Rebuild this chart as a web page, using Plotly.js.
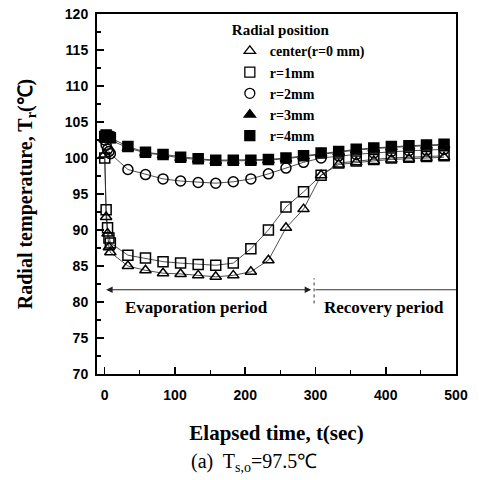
<!DOCTYPE html>
<html><head><meta charset="utf-8">
<script src="https://cdn.plot.ly/plotly-3.0.1.min.js"></script>
<style>html,body{margin:0;padding:0;background:#fff}#chart{width:479px;height:480px}</style>
</head><body><div id="chart"></div>
<script>
// Elapsed time (sec)
const tEarly = [0, 2, 4, 6, 8];
const tMain = [33, 58, 83, 108, 133, 158, 183, 208, 233, 258, 283, 308, 333, 358, 383, 408, 433, 458, 483];
const time = tEarly.concat(tMain);
// Radial temperature (deg C)
const tempCenter = [100.5, 91.8, 89.5, 87.6, 86.9, 85.0, 84.4, 84.0, 83.9, 83.7, 83.5, 83.7, 84.2, 85.8, 90.3, 92.9, 97.6, 99.1, 99.4, 99.6, 99.8, 99.9, 100.0, 100.1];
const tempR1 = [100.0, 92.8, 90.3, 88.9, 88.2, 86.5, 86.1, 85.6, 85.4, 85.2, 85.1, 85.4, 87.4, 90.0, 93.2, 95.3, 97.6, 99.3, 99.6, 99.8, 100.0, 100.1, 100.2, 100.3];
const tempR2 = [102.5, 101.8, 101.2, 100.9, 100.6, 98.4, 97.7, 97.1, 96.8, 96.6, 96.5, 96.7, 97.1, 97.8, 98.6, 99.4, 100.0, 100.3, 100.5, 100.7, 100.9, 101.0, 101.1, 101.2];
const tempR3 = [102.6, 103.0, 102.8, 102.6, 102.5, 101.4, 100.7, 100.4, 100.0, 99.8, 99.6, 99.6, 99.6, 99.7, 99.9, 100.2, 100.6, 100.8, 101.1, 101.3, 101.5, 101.6, 101.7, 101.8];
const tempR4 = [103.0, 103.2, 103.0, 102.9, 102.8, 101.6, 100.8, 100.5, 100.1, 99.9, 99.7, 99.7, 99.7, 99.8, 100.0, 100.3, 100.7, 100.9, 101.2, 101.4, 101.6, 101.7, 101.8, 101.9];
const seriesNames = ['center(r=0 mm)', 'r=1mm', 'r=2mm', 'r=3mm', 'r=4mm'];
const seriesSymbols = ['triangle-up-open', 'square-open', 'circle-open', 'triangle-up', 'square'];
const seriesData = [tempCenter, tempR1, tempR2, tempR3, tempR4];
const xTicks = [0, 100, 200, 300, 400, 500];
const yTicks = [70, 75, 80, 85, 90, 95, 100, 105, 110, 115, 120];

const serif = 'Liberation Serif, Times New Roman, serif';
const sans = 'Liberation Sans, Arial, sans-serif';

const traces = [];
[4,3,2,1,0].forEach(i => {
  traces.push({
    x: time, y: seriesData[i], type: 'scatter', mode: 'lines+markers',
    showlegend: false, cliponaxis: false,
    line: {color: '#222', width: 0.8},
    marker: {symbol: seriesSymbols[i], size: 10, color: '#000', line: {color: '#000', width: 1.5}}
  });
});
seriesNames.forEach((n, i) => {
  traces.push({
    x: [null], y: [null], type: 'scatter', mode: 'markers', name: n,
    marker: {symbol: seriesSymbols[i], size: 10, color: '#000', line: {color: '#000', width: 1.3}}
  });
});

const layout = {
  width: 479, height: 480,
  margin: {l: 97, r: 23, t: 14, b: 106},
  paper_bgcolor: '#fff', plot_bgcolor: '#fff',
  showlegend: true,
  legend: {
    x: 0.37, y: 0.995, xanchor: 'left', yanchor: 'top',
    bgcolor: 'rgba(0,0,0,0)', borderwidth: 0,
    font: {family: serif, size: 14, color: '#000', weight: 'bold'},
    title: {text: 'Radial position', font: {family: serif, size: 15, color: '#000', weight: 'bold'}},
    itemwidth: 30, tracegroupgap: 0
  },
  xaxis: {
    range: [-11, 500], tickvals: xTicks, ticktext: xTicks.map(String),
    showgrid: false, zeroline: false, showline: true, linecolor: '#000', linewidth: 2, mirror: true,
    ticks: 'inside', ticklen: 7, tickwidth: 1.5, tickcolor: '#000',
    minor: {dtick: 50, tick0: 0, ticks: 'inside', ticklen: 4, tickwidth: 1.2, tickcolor: '#000'},
    tickfont: {family: sans, size: 14, color: '#000', weight: 'bold'},
    ticklabelstandoff: 7,
    title: {text: 'Elapsed time, t(sec)', font: {family: serif, size: 21, color: '#000', weight: 'bold'}, standoff: 24}
  },
  yaxis: {
    range: [70, 120], tickvals: yTicks, ticktext: yTicks.map(String),
    showgrid: false, zeroline: false, showline: true, linecolor: '#000', linewidth: 2, mirror: true,
    ticks: 'inside', ticklen: 7, tickwidth: 1.5, tickcolor: '#000',
    minor: {dtick: 2.5, tick0: 70, ticks: 'inside', ticklen: 4, tickwidth: 1.2, tickcolor: '#000'},
    tickfont: {family: sans, size: 14, color: '#000', weight: 'bold'},
    ticklabelstandoff: 4,
    title: {text: 'Radial temperature, T<sub>r</sub>(℃)', font: {family: serif, size: 20, color: '#000', weight: 'bold'}, standoff: 27}
  },
  shapes: [
    {type: 'line', xref: 'x', yref: 'y', x0: 300, x1: 500, y0: 81.7, y1: 81.7, line: {color: '#333', width: 1}},
    {type: 'line', xref: 'x', yref: 'y', x0: 298, x1: 298, y0: 79.8, y1: 83.3, line: {color: '#333', width: 1, dash: 'dot'}}
  ],
  annotations: [
    {x: 2, y: 81.7, ax: 296, ay: 81.7, xref: 'x', yref: 'y', axref: 'x', ayref: 'y', text: '',
     showarrow: true, arrowhead: 2, arrowside: 'end+start', arrowsize: 1.3, arrowwidth: 1, arrowcolor: '#222'},
    {x: 130, y: 79.3, xref: 'x', yref: 'y', text: 'Evaporation period', showarrow: false,
     font: {family: serif, size: 17, color: '#000', weight: 'bold'}},
    {x: 397, y: 79.3, xref: 'x', yref: 'y', text: 'Recovery period', showarrow: false,
     font: {family: serif, size: 17, color: '#000', weight: 'bold'}},
    {x: 0.437, y: -0.247, xref: 'paper', yref: 'paper', text: '(a)  T<sub>s,o</sub>=97.5℃', showarrow: false,
     xanchor: 'center', yanchor: 'middle', font: {family: serif, size: 20, color: '#000'}}
  ]
};

Plotly.newPlot('chart', traces, layout, {displayModeBar: false, staticPlot: true});
</script></body></html>
